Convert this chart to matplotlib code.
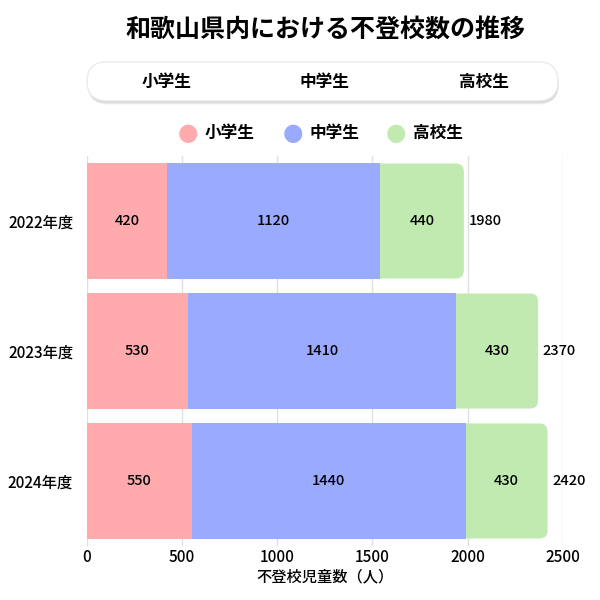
import matplotlib.pyplot as plt
from matplotlib.patches import FancyBboxPatch

plt.rcParams['font.family'] = ['Noto Sans CJK JP', 'DejaVu Sans']

years = ['2022年度', '2023年度', '2024年度']
groups = ['小学生', '中学生', '高校生']
elem = [420, 530, 550]
junior = [1120, 1410, 1440]
high = [440, 430, 430]
colors = ['#ffaaad', '#99aaff', '#c0eab0']
xticks = [0, 500, 1000, 1500, 2000, 2500]

fig = plt.figure(figsize=(6, 6), dpi=100)
ax = fig.add_axes([0.145, 0.09, 0.793, 0.65])
ax.set_xlim(0, 2500)
ax.set_ylim(2.5, -0.5)

h = 0.885
# rounded corner size (px) -> data units
r_px = 8
rx = r_px * 2500 / (0.793 * 600)
ry = r_px * 3 / (0.65 * 600)

for i, y in enumerate(years):
    a, b, c = elem[i], junior[i], high[i]
    total = a + b + c
    # last segment with rounded right end, extends under middle one
    start = a + b - 2 * rx
    p = FancyBboxPatch((start, i - h / 2), total - start, h,
                       boxstyle=f'round,pad=0,rounding_size={rx}',
                       mutation_aspect=ry / rx, fc=colors[2], ec='none', zorder=2)
    ax.add_patch(p)
    ax.barh(i, a, height=h, color=colors[0], zorder=3)
    ax.barh(i, b, left=a, height=h, color=colors[1], zorder=3)
    kw = dict(va='center', fontsize=10.5, fontweight='medium', zorder=4)
    ax.text(a / 2, i, str(a), ha='center', **kw)
    ax.text(a + b / 2, i, str(b), ha='center', **kw)
    ax.text(a + b + c / 2, i, str(c), ha='center', **kw)
    ax.text(total + 25, i, str(total), ha='left', **kw)

ax.set_yticks(range(len(years)))
ax.set_yticklabels(years, fontsize=11, fontweight='medium')
ax.set_xticks(xticks)
ax.set_xticklabels([str(t) for t in xticks], fontsize=11, fontweight='medium')
ax.tick_params(axis='y', length=0, pad=10)
ax.tick_params(axis='x', length=0, pad=2)
ax.set_xlabel('不登校児童数（人）', fontsize=11, fontweight='medium', labelpad=2)
ax.grid(axis='x', color='#e0e0e0', lw=1, zorder=0)
ax.set_axisbelow(True)
for s in ax.spines.values():
    s.set_visible(False)

fig.text(0.543, 0.95, '和歌山県内における不登校数の推移', ha='center', va='center',
         fontsize=18, fontweight='bold')

# tab box
for k, col in enumerate(['#f0f0f0', '#e2e2e2', '#d6d6d6']):
    sh = FancyBboxPatch((0.146, 0.829 - 0.0015 * (2 - k)), 0.785, 0.065,
                        boxstyle='round,pad=0,rounding_size=0.033',
                        transform=fig.transFigure, fc=col, ec='none')
    fig.patches.append(sh)
box = FancyBboxPatch((0.145, 0.832), 0.785, 0.065,
                     boxstyle='round,pad=0,rounding_size=0.033',
                     transform=fig.transFigure, fc='white', ec='#ebebeb', lw=1)
fig.patches.append(box)
for xpos, g in zip([0.277, 0.541, 0.807], groups):
    fig.text(xpos, 0.864, g, ha='center', va='center', fontsize=12, fontweight='bold')

# legend
for xpos, g, col in zip([0.313, 0.488, 0.660], groups, colors):
    fig.text(xpos, 0.779, '●', ha='center', va='center', fontsize=17, color=col,
             family=['DejaVu Sans'])
    fig.text(xpos + 0.028, 0.779, g, ha='left', va='center', fontsize=12,
             fontweight='bold')

fig.savefig('out.png', dpi=100)
